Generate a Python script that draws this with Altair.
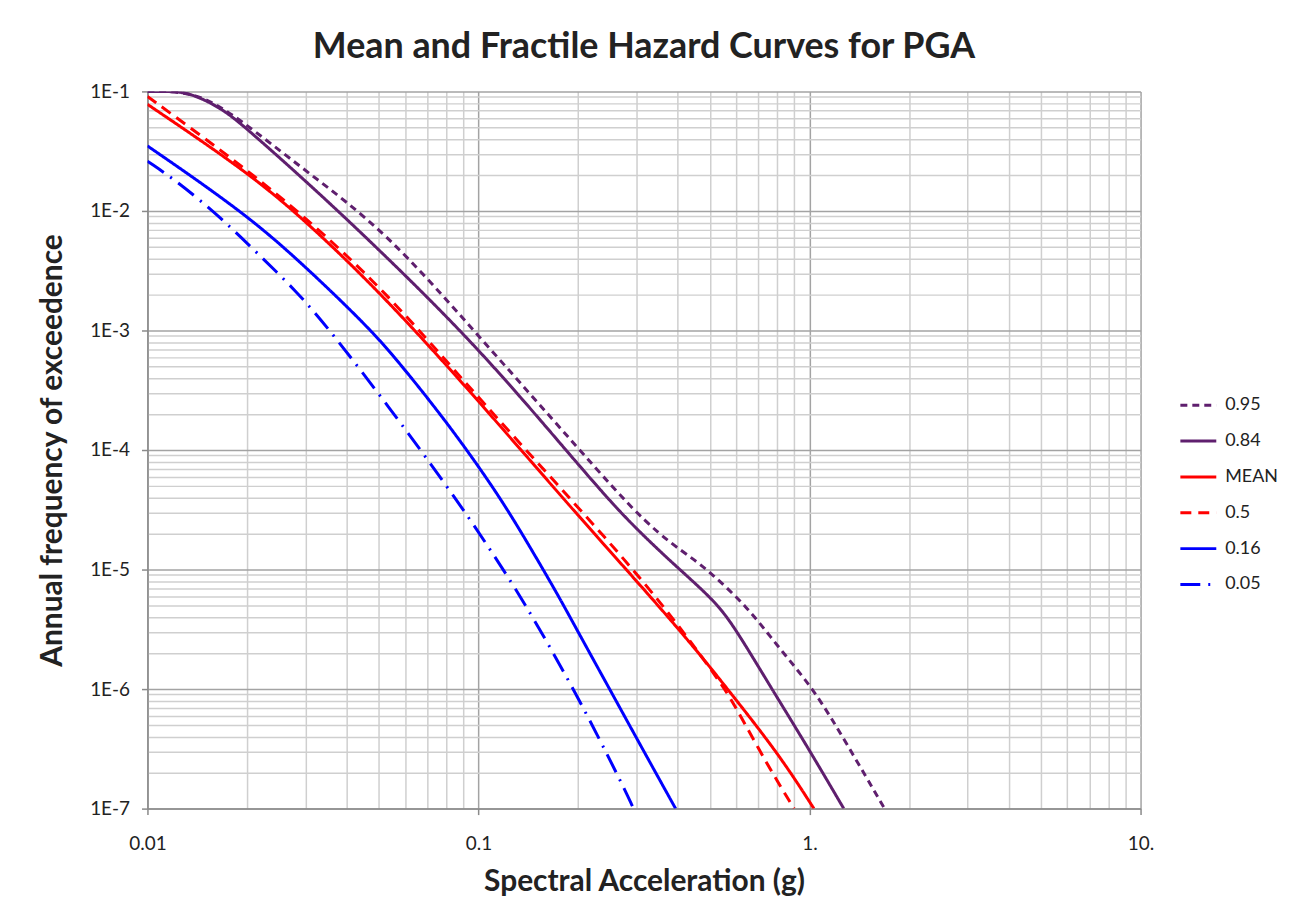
import altair as alt
import pandas as pd

series_names = ["0.95", "0.84", "MEAN", "0.5", "0.16", "0.05"]
series_colors = ["#5f1f6e", "#5f1f6e", "#ff0000", "#ff0000", "#0000ff", "#0000ff"]
series_dashes = [[7, 5], [1, 0], [1, 0], [11, 7], [1, 0], [20, 8, 2, 8]]

# Spectral acceleration (g) and annual frequency of exceedence
x_095 = [0.01, 0.01405, 0.0189, 0.0301, 0.0524, 0.0998, 0.2023, 0.324, 0.449, 0.5015, 0.648, 0.814, 1.031, 1.296, 1.686]
y_095 = [0.1, 0.1, 0.0596, 0.0215, 0.00681, 9.08e-4, 1.0e-4, 2.28e-5, 1.21e-5, 9.44e-6, 4.92e-6, 2.15e-6, 1.0e-6, 3.48e-7, 1.0e-7]

x_084 = [0.01, 0.01165, 0.01338, 0.0168, 0.0199, 0.0301, 0.0499, 0.0998, 0.1836, 0.258, 0.324, 0.399, 0.516, 0.592, 0.760, 0.982, 1.269]
y_084 = [0.1, 0.1, 0.098, 0.0722, 0.0492, 0.0178, 0.00482, 7.22e-4, 1.0e-4, 3.35e-5, 1.78e-5, 1.04e-5, 5.5e-6, 3.35e-6, 1.06e-6, 3.35e-7, 1.0e-7]

x_mean = [0.01, 0.0199, 0.0301, 0.0524, 0.0998, 0.1995, 0.399, 0.576, 0.814, 1.031]
y_mean = [0.078, 0.0215, 0.00826, 0.00188, 2.61e-4, 2.82e-5, 3.35e-6, 9.4e-7, 2.77e-7, 1.0e-7]

x_05 = [0.01, 0.01434, 0.0189, 0.0286, 0.0524, 0.0998, 0.258, 0.399, 0.5377, 0.592, 0.745, 0.898]
y_05 = [0.0908, 0.0438, 0.0246, 0.01, 0.00215, 2.71e-4, 1.55e-5, 3.55e-6, 1.14e-6, 7.5e-7, 2.33e-7, 1.0e-7]

x_016 = [0.01, 0.0199, 0.0301, 0.0466, 0.0573, 0.0811, 0.1146, 0.144, 0.174, 0.2, 0.251, 0.30, 0.394]
y_016 = [0.035, 0.0094, 0.0034, 1.06e-3, 5.5e-4, 1.65e-4, 4.3e-5, 1.5e-5, 6.1e-6, 3.0e-6, 9.6e-7, 3.9e-7, 1.0e-7]

x_005 = [0.01, 0.0125, 0.0167, 0.0214, 0.0281, 0.0353, 0.0584, 0.090, 0.110, 0.134, 0.193, 0.269, 0.294]
y_005 = [0.0261, 0.0171, 0.00874, 0.00447, 0.00215, 0.00104, 1.68e-4, 3.2e-5, 1.38e-5, 6.0e-6, 1.04e-6, 1.7e-7, 1.0e-7]

all_x = [x_095, x_084, x_mean, x_05, x_016, x_005]
all_y = [y_095, y_084, y_mean, y_05, y_016, y_005]

rows = []
for name, xs, ys in zip(series_names, all_x, all_y):
    for i, (xv, yv) in enumerate(zip(xs, ys)):
        rows.append({"series": name, "sa": xv, "freq": yv, "i": i})
df = pd.DataFrame(rows)

x_ticks = [m * 10 ** e for e in (-2, -1, 0) for m in range(1, 10)] + [10]
y_ticks = [m * 10 ** e for e in (-7, -6, -5, -4, -3, -2) for m in range(1, 10)] + [0.1]

DEC = "abs(log(datum.value)/LN10 - round(log(datum.value)/LN10)) < 1e-6"
FONT = "Lato"
MAJOR = "#a3a3a3"
MINOR = "#cfcfcf"
TXT = "#222222"

x_axis = alt.Axis(
    values=x_ticks,
    labelExpr="datum.value == 0.01 ? '0.01' : datum.value == 0.1 ? '0.1' : datum.value == 1 ? '1.' : datum.value == 10 ? '10.' : ''",
    grid=True,
    gridColor={"condition": {"test": DEC, "value": MAJOR}, "value": MINOR},
    gridWidth=1.5,
    tickColor={"condition": {"test": DEC, "value": "#8a8a8a"}, "value": "transparent"},
    tickSize=6,
    tickWidth=1.5,
    domainColor="#8a8a8a",
    domainWidth=1.5,
    labelOverlap=False,
    labelFlush=False,
    labelFont=FONT,
    labelFontSize=19,
    labelColor=TXT,
    labelPadding=20,
    title="Spectral Acceleration (g)",
    titleFont=FONT,
    titleFontSize=30,
    titleFontWeight="bold",
    titleColor=TXT,
    titlePadding=13,
)

y_axis = alt.Axis(
    values=y_ticks,
    labelExpr="(" + DEC + ") ? '1E' + round(log(datum.value)/LN10) : ''",
    grid=True,
    gridColor={"condition": {"test": DEC, "value": MAJOR}, "value": MINOR},
    gridWidth=1.5,
    tickColor={"condition": {"test": DEC, "value": "#8a8a8a"}, "value": "transparent"},
    tickSize=6,
    tickWidth=1.5,
    domainColor="#8a8a8a",
    domainWidth=1.5,
    labelOverlap=False,
    labelFlush=False,
    labelFont=FONT,
    labelFontSize=19,
    labelColor=TXT,
    labelPadding=12,
    title="Annual frequency of exceedence",
    titleFont=FONT,
    titleFontSize=30,
    titleFontWeight="bold",
    titleColor=TXT,
    titlePadding=22,
)

legend = alt.Legend(
    title=None,
    orient="none",
    legendX=1035,
    legendY=295,
    symbolType="stroke",
    symbolSize=1300,
    symbolStrokeWidth=3,
    labelFont=FONT,
    labelFontSize=18,
    labelColor=TXT,
    labelOffset=7,
    rowPadding=7,
)

chart = (
    alt.Chart(df)
    .mark_line(interpolate="basis", strokeWidth=3, clip=True)
    .encode(
        x=alt.X("sa:Q", scale=alt.Scale(type="log", domain=[0.01, 10]), axis=x_axis),
        y=alt.Y("freq:Q", scale=alt.Scale(type="log", domain=[1e-7, 0.1]), axis=y_axis),
        color=alt.Color("series:N", scale=alt.Scale(domain=series_names, range=series_colors), legend=legend),
        strokeDash=alt.StrokeDash("series:N", scale=alt.Scale(domain=series_names, range=series_dashes), legend=legend),
        detail="series:N",
        order=alt.Order("i:Q"),
    )
    .properties(
        width=997,
        height=720,
        autosize="none",
        padding={"left": 140, "top": 82, "right": 142, "bottom": 90},
        title=alt.TitleParams(
            "Mean and Fractile Hazard Curves for PGA",
            font=FONT,
            fontSize=36,
            fontWeight="bold",
            color=TXT,
            anchor="middle",
            offset=17,
        ),
    )
    .configure_view(stroke="transparent")
)

chart.save("out.html", embed_options={"renderer": "svg", "actions": False})
